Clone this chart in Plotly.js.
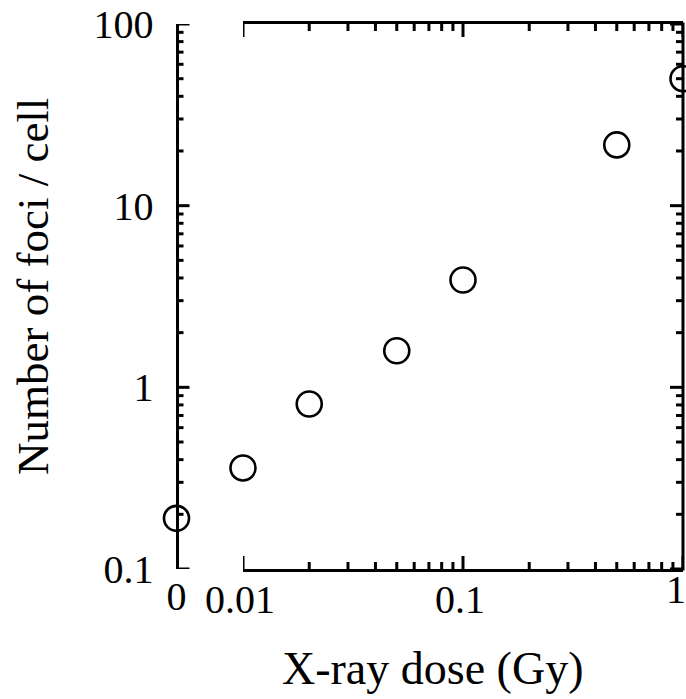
<!DOCTYPE html>
<html>
<head>
<meta charset="utf-8">
<script src="https://cdn.plot.ly/plotly-3.0.1.min.js"></script>
<style>html,body{margin:0;padding:0;background:#fff;}#chart{width:686px;height:699px;}</style>
</head>
<body>
<div id="chart"></div>
<script>
// Data
const doseLog = [0.01, 0.02, 0.05, 0.1, 0.5, 1];
const fociLog = [0.36, 0.81, 1.59, 3.9, 21.6, 50];
const doseZero = [0];
const fociZero = [0.19];

// Tick values / labels
const xTickVals = [0.01, 0.1];
const xTickText = ['0.01', '0.1'];
const xEndVals = [1];
const xEndText = ['1'];
const xMajorVals = [0.01, 0.1, 1];
const xMinorVals = [0.02,0.03,0.04,0.05,0.06,0.07,0.08,0.09,0.2,0.3,0.4,0.5,0.6,0.7,0.8,0.9];
const yTickVals = [0.1, 1, 10, 100];
const yTickText = ['0.1', '1', '10', '100'];
const yMinorVals = [0.2,0.3,0.4,0.5,0.6,0.7,0.8,0.9,2,3,4,5,6,7,8,9,20,30,40,50,60,70,80,90];
const xTitle = 'X-ray dose (Gy)';
const yTitle = 'Number of foci / cell';

const FONT = 'Liberation Serif, Times New Roman, serif';
const W = 686, H = 699;
const L = 100, R = 3, T = 24, B = 130;
const pw = W - L - R, ph = H - T - B;
const xStart = (243 - L) / pw;
const yPos = (176.5 - L) / pw;
const half = 30 / pw;
const MAJ = 13, MIN = 7, LW = 3;

const marker = {symbol: 'circle-open', size: 25, color: '#000', line: {width: 2.6, color: '#000'}};
const tf = {family: FONT, size: 40, color: '#000'};

const traces = [
  {x: doseLog, y: fociLog, xaxis: 'x', yaxis: 'y', type: 'scatter', mode: 'markers', marker: marker, cliponaxis: false, hoverinfo: 'skip'},
  {x: doseZero, y: fociZero, xaxis: 'x2', yaxis: 'y', type: 'scatter', mode: 'markers', marker: marker, cliponaxis: false, hoverinfo: 'skip'},
  {x: [doseLog[0]], y: [fociLog[0]], xaxis: 'x3', yaxis: 'y', type: 'scatter', mode: 'markers', marker: {opacity: 0}, hoverinfo: 'skip'}
];

// Tick marks as frame decorations
const shapes = [];
const ln = {color: '#000', width: LW};
function xTicks(vals, len) {
  vals.forEach(function(v) {
    shapes.push({type: 'line', xref: 'x', yref: 'paper', x0: v, x1: v, y0: 0, y1: len / ph, line: ln});
    shapes.push({type: 'line', xref: 'x', yref: 'paper', x0: v, x1: v, y0: 1, y1: 1 - len / ph, line: ln});
  });
}
function yTicks(vals, len) {
  vals.forEach(function(v) {
    shapes.push({type: 'line', xref: 'paper', yref: 'y', x0: yPos, x1: yPos + len / pw, y0: v, y1: v, line: ln});
    shapes.push({type: 'line', xref: 'paper', yref: 'y', x0: 1, x1: 1 - len / pw, y0: v, y1: v, line: ln});
  });
}
xTicks(xMajorVals, MAJ);
xTicks(xMinorVals, MIN);
yTicks(yTickVals, MAJ);
yTicks(yMinorVals, MIN);
// right frame line
shapes.push({type: 'line', xref: 'paper', yref: 'paper', x0: 1, x1: 1, y0: -1.5 / ph, y1: 1 + 1.5 / ph, line: ln});

const layout = {
  width: W, height: H,
  margin: {l: L, r: R, t: T, b: B, pad: 0},
  paper_bgcolor: '#fff', plot_bgcolor: 'rgba(0,0,0,0)',
  showlegend: false,
  font: {family: FONT, color: '#000', size: 40},
  xaxis: {
    type: 'log', range: [-2, 0], domain: [xStart, 1], anchor: 'y',
    showline: true, mirror: true, linecolor: '#000', linewidth: LW,
    ticks: '', showgrid: false, zeroline: false,
    tickmode: 'array', tickvals: xTickVals, ticktext: xTickText,
    ticklabelshift: -3, ticklabelstandoff: -7, ticklabeloverflow: 'allow', tickfont: tf
  },
  xaxis3: {
    type: 'log', range: [-2, 0], domain: [xStart, 1], anchor: 'y', overlaying: 'x',
    showline: false, ticks: '', showgrid: false, zeroline: false,
    tickmode: 'array', tickvals: xEndVals, ticktext: xEndText,
    ticklabelshift: -7, ticklabelstandoff: -7, ticklabeloverflow: 'allow', tickfont: tf
  },
  xaxis2: {
    type: 'linear', range: [-1, 1], domain: [yPos - half, yPos + half], anchor: 'y',
    showline: false, showgrid: false, zeroline: false, ticks: '',
    tickmode: 'array', tickvals: doseZero, ticktext: ['0'],
    ticklabeloverflow: 'allow', tickfont: tf
  },
  yaxis: {
    type: 'log', range: [-1, 2], domain: [0, 1], anchor: 'free', position: yPos, side: 'left',
    showline: true, linecolor: '#000', linewidth: LW,
    ticks: '', showgrid: false, zeroline: false,
    tickmode: 'array', tickvals: yTickVals, ticktext: yTickText,
    ticklabelstandoff: 14, ticklabeloverflow: 'allow', tickfont: tf
  },
  shapes: shapes,
  annotations: [
    {text: xTitle, xref: 'paper', yref: 'paper', x: (432 - L) / pw, y: (H - B - 668) / ph,
     xanchor: 'center', yanchor: 'middle', showarrow: false, font: {family: FONT, size: 46, color: '#000'}},
    {text: yTitle, xref: 'paper', yref: 'paper', x: (33 - L) / pw, y: (H - B - 287) / ph,
     xanchor: 'center', yanchor: 'middle', textangle: -90, showarrow: false, font: {family: FONT, size: 45, color: '#000'}}
  ]
};

Plotly.newPlot('chart', traces, layout, {staticPlot: true, displayModeBar: false});
</script>
</body>
</html>
